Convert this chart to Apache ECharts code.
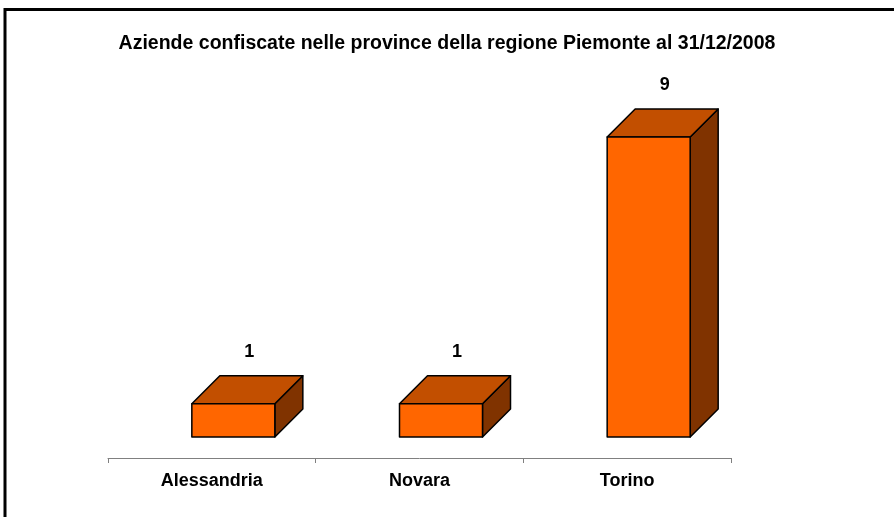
<!DOCTYPE html>
<html>
<head>
<meta charset="utf-8">
<script src="https://cdn.jsdelivr.net/npm/echarts@6/dist/echarts.min.js"></script>
<style>
  html, body { margin: 0; padding: 0; background: #fff; }
  #chart { width: 894px; height: 517px; }
</style>
</head>
<body>
<div id="chart"></div>
<script>
var titleText = 'Aziende confiscate nelle province della regione Piemonte al 31/12/2008';
var categories = ['Alessandria', 'Novara', 'Torino'];
var values = [1, 1, 9];

// pseudo 3D look (pixels)
var DEPTH = 28;
var FLOOR = 21;
var FRONT_LEFT = -20, FRONT_RIGHT = 63;

function renderBox(params, api) {
	var base = api.coord([api.value(0), 0]);
	var top = api.coord([api.value(0), api.value(1)]);
	var x0 = base[0] + FRONT_LEFT, x1 = base[0] + FRONT_RIGHT;
	var yb = base[1] - FLOOR, yt = top[1] - FLOOR;
	var line = { stroke: '#000', lineWidth: 1.5, lineJoin: 'round' };
	return {
		type: 'group',
		children: [
			{
				type: 'polygon',
				shape: { points: [[x1, yb], [x1 + DEPTH, yb - DEPTH], [x1 + DEPTH, yt - DEPTH], [x1, yt]] },
				style: Object.assign({ fill: '#803300' }, line)
			},
			{
				type: 'polygon',
				shape: { points: [[x0, yt], [x0 + DEPTH, yt - DEPTH], [x1 + DEPTH, yt - DEPTH], [x1, yt]] },
				style: Object.assign({ fill: '#C24F00' }, line)
			},
			{
				type: 'rect',
				shape: { x: x0, y: yt, width: x1 - x0, height: yb - yt },
				style: Object.assign({ fill: '#FF6600' }, line)
			},
			{
				type: 'text',
				style: {
					x: (x0 + x1 + DEPTH) / 2 + 2,
					y: yt - DEPTH - 24,
					text: String(api.value(1)),
					align: 'center',
					verticalAlign: 'middle',
					fontFamily: 'Liberation Sans, Arial, sans-serif',
					fontWeight: 'bold',
					fontSize: 18,
					fill: '#000'
				}
			}
		]
	};
}

var myChart = echarts.init(document.getElementById('chart'));
var option = {
	animation: false,
	title: {
		text: titleText,
		left: 'center',
		top: 29,
		textStyle: {
			fontFamily: 'Liberation Sans, Arial, sans-serif',
			fontWeight: 'bold',
			fontSize: 19.5,
			color: '#000'
		}
	},
	graphic: [
		{
			type: 'rect',
			shape: { x: 5, y: 9.5, width: 2000, height: 2000 },
			style: { fill: 'none', stroke: '#000', lineWidth: 3 },
			silent: true
		}
	],
	grid: {
		left: 108,
		right: 163,
		top: 124.7,
		bottom: 59
	},
	xAxis: {
		type: 'category',
		data: categories,
		axisLine: { lineStyle: { color: '#808080', width: 1 } },
		axisTick: { show: true, length: 5, lineStyle: { color: '#808080' } },
		axisLabel: {
			margin: 14,
			fontFamily: 'Liberation Sans, Arial, sans-serif',
			fontWeight: 'bold',
			fontSize: 18,
			color: '#000'
		}
	},
	yAxis: {
		type: 'value',
		min: 0,
		max: 10,
		show: false
	},
	series: [
		{
			type: 'custom',
			renderItem: renderBox,
			data: values.map(function (v, i) { return [i, v]; }),
			clip: false
		}
	]
};
myChart.setOption(option);
</script>
</body>
</html>
